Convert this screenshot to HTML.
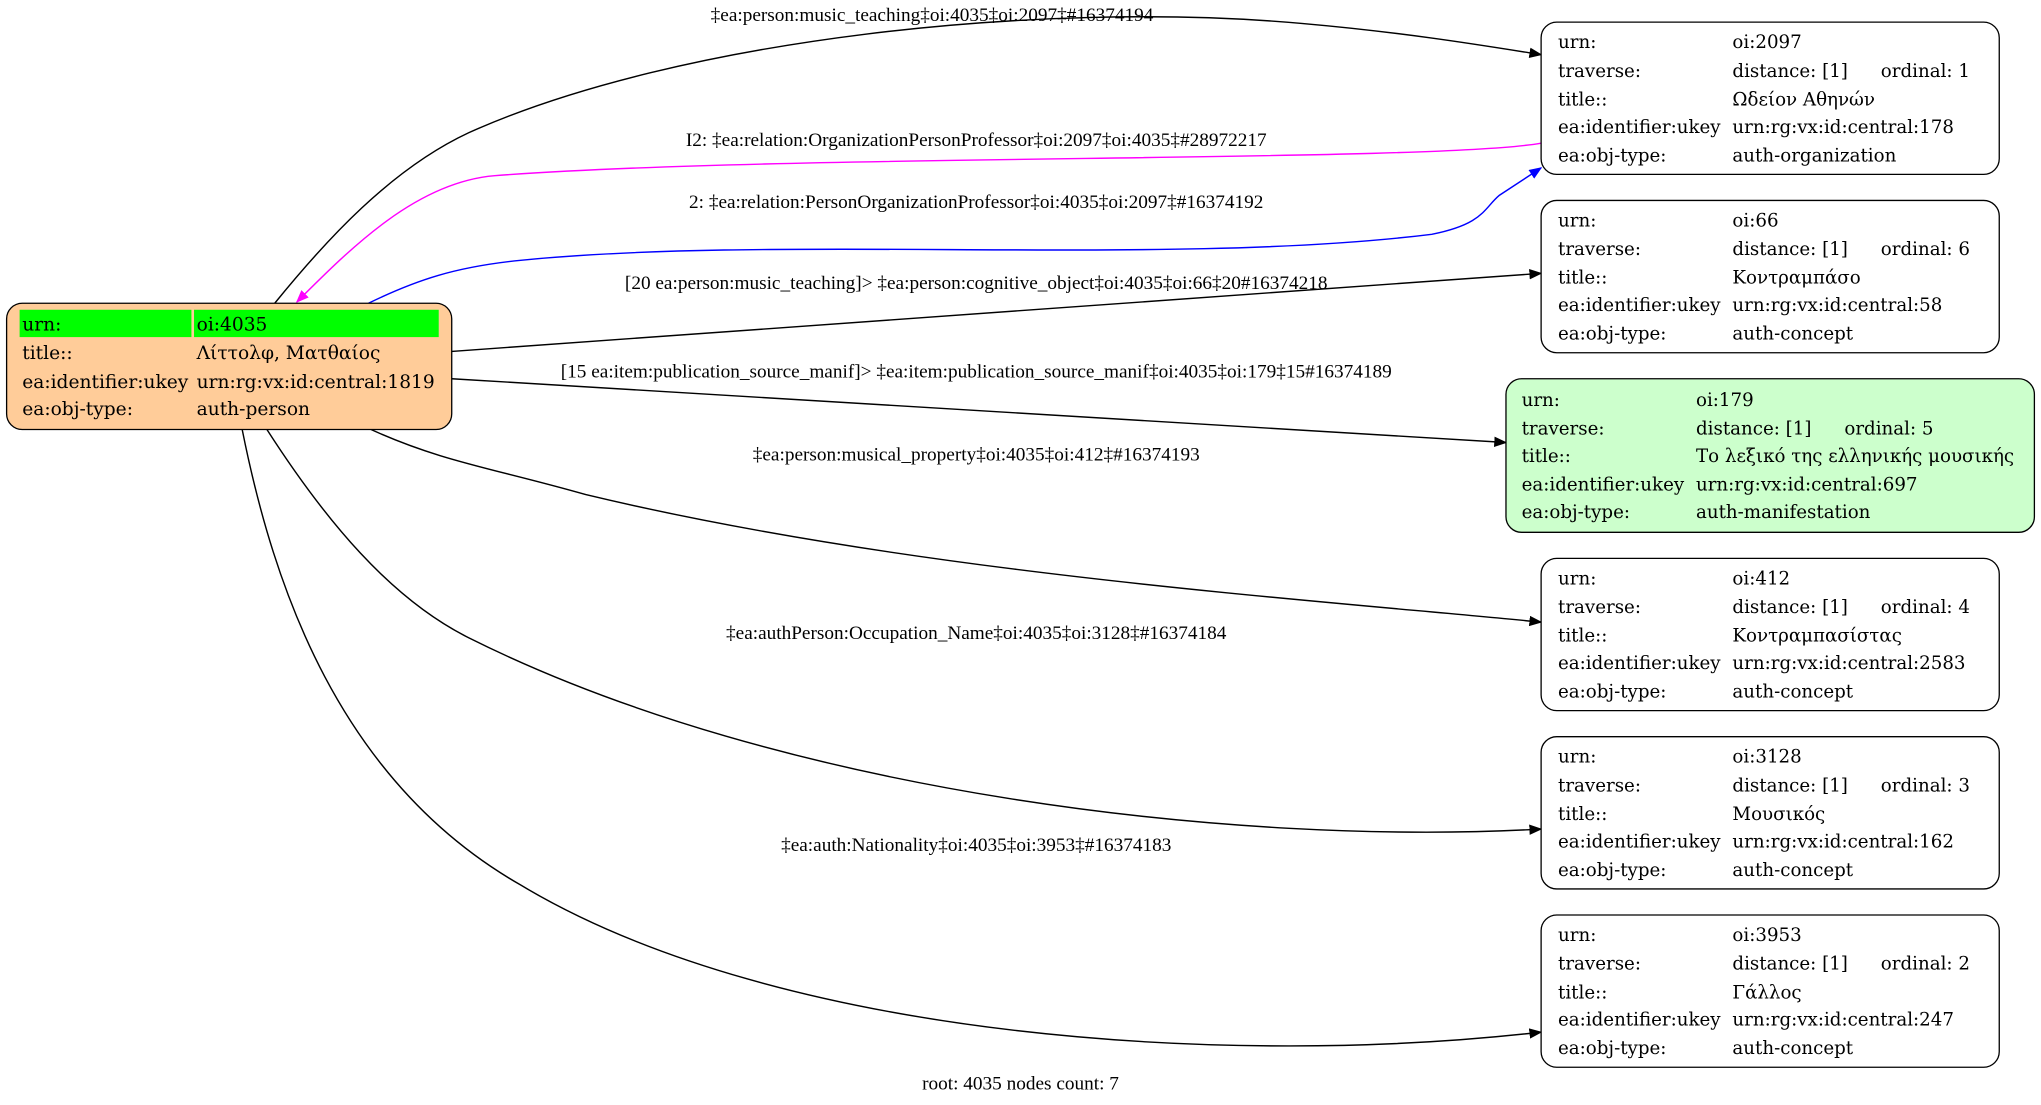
<!DOCTYPE html>
<html><head><meta charset="utf-8"><style>
html,body{margin:0;padding:0;background:#fff;}
svg{display:block;}
text{font-family:"Liberation Serif","DejaVu Serif",serif;font-size:14.8px;fill:#000;}
.n text{font-family:"DejaVu Serif","Liberation Serif",serif;font-size:14px;}
.r text{font-family:"DejaVu Serif","Liberation Serif",serif;font-size:14.3px;}
</style></head><body>
<svg width="2041" height="1105" viewBox="0 0 1568 849" xmlns="http://www.w3.org/2000/svg">
<defs>
<marker id="ak" markerWidth="10" markerHeight="8" refX="9" refY="4" orient="auto" markerUnits="userSpaceOnUse"><path d="M0,0 L10,4 L0,8 z" fill="#000"/></marker>
<marker id="am" markerWidth="10" markerHeight="8" refX="9" refY="4" orient="auto" markerUnits="userSpaceOnUse"><path d="M0,0 L10,4 L0,8 z" fill="#f0f"/></marker>
<marker id="ab" markerWidth="10" markerHeight="8" refX="9" refY="4" orient="auto" markerUnits="userSpaceOnUse"><path d="M0,0 L10,4 L0,8 z" fill="#00f"/></marker>
</defs>
<g fill="none" stroke-width="1.1">
<path d="M211,233 C250,185 300,130 360,102 C520,30 800,0 1000,18 C1080,25 1140,35 1184,42" stroke="#000" marker-end="url(#ak)"/>
<path d="M1184,110 C1100,125 600,118 380,135 C320,140 270,190 228,232" stroke="#f0f" marker-end="url(#am)"/>
<path d="M283,233 C320,215 350,205 400,200 C600,180 900,205 1100,180 C1140,172 1140,160 1152,150 L1184,129" stroke="#00f" marker-end="url(#ab)"/>
<path d="M347,270 L1184,210" stroke="#000" marker-end="url(#ak)"/>
<path d="M347,291 L1157,340" stroke="#000" marker-end="url(#ak)"/>
<path d="M285,330 C340,355 380,360 450,380 C700,440 1000,460 1184,478" stroke="#000" marker-end="url(#ak)"/>
<path d="M205,330 C250,400 300,460 360,490 C600,610 950,650 1184,637" stroke="#000" marker-end="url(#ak)"/>
<path d="M186,330 C210,450 260,600 400,680 C600,800 950,820 1184,793" stroke="#000" marker-end="url(#ak)"/>
</g>
<g text-anchor="middle">
<text x="716" y="16">‡ea:person:music_teaching‡oi:4035‡oi:2097‡#16374194</text>
<text x="750" y="112">I2: ‡ea:relation:OrganizationPersonProfessor‡oi:2097‡oi:4035‡#28972217</text>
<text x="750" y="160">2: ‡ea:relation:PersonOrganizationProfessor‡oi:4035‡oi:2097‡#16374192</text>
<text x="750" y="222">[20 ea:person:music_teaching]&gt; ‡ea:person:cognitive_object‡oi:4035‡oi:66‡20#16374218</text>
<text x="750" y="290">[15 ea:item:publication_source_manif]&gt; ‡ea:item:publication_source_manif‡oi:4035‡oi:179‡15#16374189</text>
<text x="750" y="354">‡ea:person:musical_property‡oi:4035‡oi:412‡#16374193</text>
<text x="750" y="491">‡ea:authPerson:Occupation_Name‡oi:4035‡oi:3128‡#16374184</text>
<text x="750" y="654">‡ea:auth:Nationality‡oi:4035‡oi:3953‡#16374183</text>
<text x="784" y="837">root: 4035 nodes count: 7</text>
</g>
<g class="r">
<rect x="5" y="233" width="342" height="97" rx="12" fill="#ffcc99" stroke="#000"/>
<rect x="15" y="238" width="132" height="21" fill="#00ff00"/>
<rect x="149" y="238" width="188" height="21" fill="#00ff00"/>
<text x="17" y="254">urn:</text><text x="151" y="254">oi:4035</text>
<text x="17" y="276">title::</text><text x="151" y="276">Λίττολφ, Ματθαίος</text>
<text x="17" y="298">ea:identifier:ukey</text><text x="151" y="298">urn:rg:vx:id:central:1819</text>
<text x="17" y="319">ea:obj-type:</text><text x="151" y="319">auth-person</text>
</g>
<g class="n">
<rect x="1184" y="17" width="352" height="117" rx="12" fill="#fff" stroke="#000"/>
<text x="1197" y="37">urn:</text><text x="1331" y="37">oi:2097</text>
<text x="1197" y="59">traverse:</text><text x="1331" y="59">distance: [1]</text><text x="1445" y="59">ordinal: 1</text>
<text x="1197" y="81">title::</text><text x="1331" y="81">Ωδείον Αθηνών</text>
<text x="1197" y="102">ea:identifier:ukey</text><text x="1331" y="102">urn:rg:vx:id:central:178</text>
<text x="1197" y="124">ea:obj-type:</text><text x="1331" y="124">auth-organization</text>
</g>
<g class="n">
<rect x="1184" y="154" width="352" height="117" rx="12" fill="#fff" stroke="#000"/>
<text x="1197" y="174">urn:</text><text x="1331" y="174">oi:66</text>
<text x="1197" y="196">traverse:</text><text x="1331" y="196">distance: [1]</text><text x="1445" y="196">ordinal: 6</text>
<text x="1197" y="218">title::</text><text x="1331" y="218">Κοντραμπάσο</text>
<text x="1197" y="239">ea:identifier:ukey</text><text x="1331" y="239">urn:rg:vx:id:central:58</text>
<text x="1197" y="261">ea:obj-type:</text><text x="1331" y="261">auth-concept</text>
</g>
<g class="n">
<rect x="1157" y="291" width="406" height="118" rx="12" fill="#ccffcc" stroke="#000"/>
<text x="1169" y="312">urn:</text><text x="1303" y="312">oi:179</text>
<text x="1169" y="334">traverse:</text><text x="1303" y="334">distance: [1]</text><text x="1417" y="334">ordinal: 5</text>
<text x="1169" y="355">title::</text><text x="1303" y="355">Το λεξικό της ελληνικής μουσικής</text>
<text x="1169" y="377">ea:identifier:ukey</text><text x="1303" y="377">urn:rg:vx:id:central:697</text>
<text x="1169" y="398">ea:obj-type:</text><text x="1303" y="398">auth-manifestation</text>
</g>
<g class="n">
<rect x="1184" y="429" width="352" height="117" rx="12" fill="#fff" stroke="#000"/>
<text x="1197" y="449">urn:</text><text x="1331" y="449">oi:412</text>
<text x="1197" y="471">traverse:</text><text x="1331" y="471">distance: [1]</text><text x="1445" y="471">ordinal: 4</text>
<text x="1197" y="493">title::</text><text x="1331" y="493">Κοντραμπασίστας</text>
<text x="1197" y="514">ea:identifier:ukey</text><text x="1331" y="514">urn:rg:vx:id:central:2583</text>
<text x="1197" y="536">ea:obj-type:</text><text x="1331" y="536">auth-concept</text>
</g>
<g class="n">
<rect x="1184" y="566" width="352" height="117" rx="12" fill="#fff" stroke="#000"/>
<text x="1197" y="586">urn:</text><text x="1331" y="586">oi:3128</text>
<text x="1197" y="608">traverse:</text><text x="1331" y="608">distance: [1]</text><text x="1445" y="608">ordinal: 3</text>
<text x="1197" y="630">title::</text><text x="1331" y="630">Μουσικός</text>
<text x="1197" y="651">ea:identifier:ukey</text><text x="1331" y="651">urn:rg:vx:id:central:162</text>
<text x="1197" y="673">ea:obj-type:</text><text x="1331" y="673">auth-concept</text>
</g>
<g class="n">
<rect x="1184" y="703" width="352" height="117" rx="12" fill="#fff" stroke="#000"/>
<text x="1197" y="723">urn:</text><text x="1331" y="723">oi:3953</text>
<text x="1197" y="745">traverse:</text><text x="1331" y="745">distance: [1]</text><text x="1445" y="745">ordinal: 2</text>
<text x="1197" y="767">title::</text><text x="1331" y="767">Γάλλος</text>
<text x="1197" y="788">ea:identifier:ukey</text><text x="1331" y="788">urn:rg:vx:id:central:247</text>
<text x="1197" y="810">ea:obj-type:</text><text x="1331" y="810">auth-concept</text>
</g>
</svg>
</body></html>
